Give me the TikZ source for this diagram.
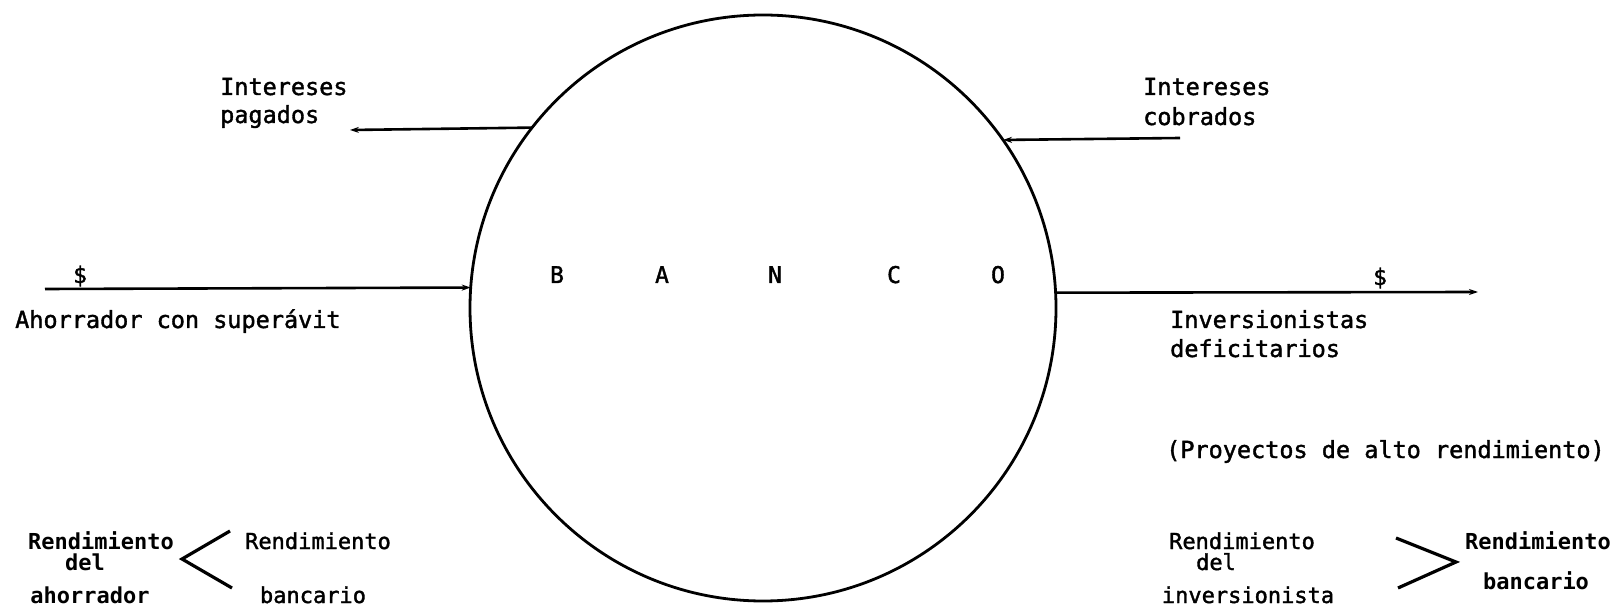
\documentclass[tikz,border=0pt]{standalone}
\usepackage{fontspec}
\setmonofont{DejaVu Sans Mono}
\newfontfamily\twr{DejaVu Sans Mono}[FakeBold=1.6]
\newfontfamily\twb{DejaVu Sans Mono Bold}
\usetikzlibrary{arrows.meta}
\begin{document}
\begin{tikzpicture}[x=1pt,y=-1pt,
  lbl/.style={font=\twr\fontsize{23.5}{28}\selectfont, inner sep=0pt, anchor=base west},
  ctr/.style={font=\twr\fontsize{23}{26}\selectfont, inner sep=0pt, anchor=base},
  sml/.style={font=\twr\fontsize{22}{24}\selectfont, inner sep=0pt, anchor=base},
  smlb/.style={font=\twb\fontsize{22}{24}\selectfont, inner sep=0pt, anchor=base},
  flow/.style={line width=2.6pt, -{Stealth[length=9pt,width=6pt]}},
  cmp/.style={line width=3.2pt, line join=miter},
]
\useasboundingbox (0,0) rectangle (1612,609);
% bank circle
\node[draw, circle, line width=2.8pt, minimum size=586pt, inner sep=0pt, outer sep=0pt] (bank) at (763,308) {};
\node[ctr] (lB) at (557,283) {B};
\node[ctr] (lA) at (662,283) {A};
\node[ctr] (lN) at (775,283) {N};
\node[ctr] (lC) at (894,283) {C};
\node[ctr] (lO) at (998,283) {O};
% interest paid
\node[lbl] (ip1) at (220,95) {Intereses};
\node[lbl] (ip2) at (220,123) {pagados};
\coordinate (pagTip) at (350,130);
\draw[flow] (bank.142.6) -- (pagTip);
% interest received
\node[lbl] (ic1) at (1143,95) {Intereses};
\node[lbl] (ic2) at (1143,125) {cobrados};
\coordinate (cobTail) at (1180,138);
\draw[flow] (cobTail) -- (bank.35.5);
% saver flow
\coordinate (ahoTail) at (45,289);
\draw[flow] (ahoTail) -- (bank.176.3);
\node[ctr] (dl) at (80,283) {\$};
\node[lbl] (aho) at (15,328) {Ahorrador con superávit};
% investor flow
\coordinate (invTip) at (1478,292);
\draw[flow] (bank.3.13) -- (invTip);
\node[ctr] (dr) at (1380,285) {\$};
\node[lbl] (inv1) at (1170,328) {Inversionistas};
\node[lbl] (inv2) at (1170,357) {deficitarios};
\node[lbl, anchor=base east] (proy) at (1605,458) {(Proyectos de alto rendimiento)};
% left comparison
\node[smlb] (ra1) at (101,549) {Rendimiento};
\node[smlb] (ra2) at (85,570) {del};
\node[smlb] (ra3) at (90,603) {ahorrador};
\coordinate (lt1) at (230,531);
\coordinate (ltTip) at (182,559);
\coordinate (lt2) at (232,588);
\draw[cmp] (lt1) -- (ltTip) -- (lt2);
\node[sml] (rb1) at (318,549) {Rendimiento};
\node[sml] (rb2) at (313,603) {bancario};
% right comparison
\node[sml] (ri1) at (1242,549) {Rendimiento};
\node[sml] (ri2) at (1216,570) {del};
\node[sml] (ri3) at (1248,603) {inversionista};
\coordinate (gt1) at (1396,538);
\coordinate (gtTip) at (1456,562);
\coordinate (gt2) at (1398,588);
\draw[cmp] (gt1) -- (gtTip) -- (gt2);
\node[smlb] (rc1) at (1538,549) {Rendimiento};
\node[smlb] (rc2) at (1536,589) {bancario};
\end{tikzpicture}
\end{document}
